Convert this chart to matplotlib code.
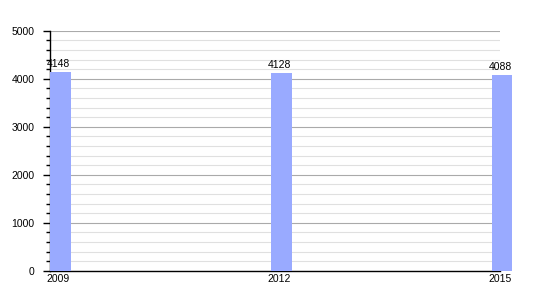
import numpy as np
import matplotlib.pyplot as plt
from matplotlib.ticker import MultipleLocator

# Population values
years = [2009, 2012, 2015]
values = [4148, 4128, 4088]

plt.rcParams['font.family'] = ['Liberation Sans', 'DejaVu Sans']

fig = plt.figure(figsize=(5.5, 3.0), dpi=100)
ax = fig.add_axes([0.091, 0.097, 0.818, 0.800])

bar_w = 0.28
bars = ax.bar(years, values, width=bar_w, align='edge', color='#99aaff', zorder=3)
for b in bars:
    b.set_clip_on(False)  # last bar sits past the right edge of the plot

for x, v in zip(years, values):
    ax.text(x + bar_w / 2 - 0.03, v + 50, str(v), ha='center', va='bottom',
            fontsize=7.5, color='black', zorder=4)

ax.set_xlim(2009, 2015)
ax.set_ylim(0, 5000)
ax.set_xticks([y + bar_w / 2 - 0.03 for y in years])
ax.set_xticklabels([str(y) for y in years])
ax.tick_params(axis='x', length=0, labelsize=7.5, pad=2)

ax.yaxis.set_major_locator(MultipleLocator(1000))
ax.yaxis.set_minor_locator(MultipleLocator(200))
ax.tick_params(axis='y', which='major', length=5, width=1, labelsize=7.5, pad=6)
ax.tick_params(axis='y', which='minor', length=3, width=1)

ax.grid(axis='y', which='major', color='#aaaaaa', linewidth=0.8, zorder=0)
ax.grid(axis='y', which='minor', color='#e0e0e0', linewidth=0.8, zorder=0)

for s in ['top', 'right']:
    ax.spines[s].set_visible(False)
ax.spines['left'].set_linewidth(1)
ax.spines['bottom'].set_linewidth(1)

fig.savefig('out.png', dpi=100)
